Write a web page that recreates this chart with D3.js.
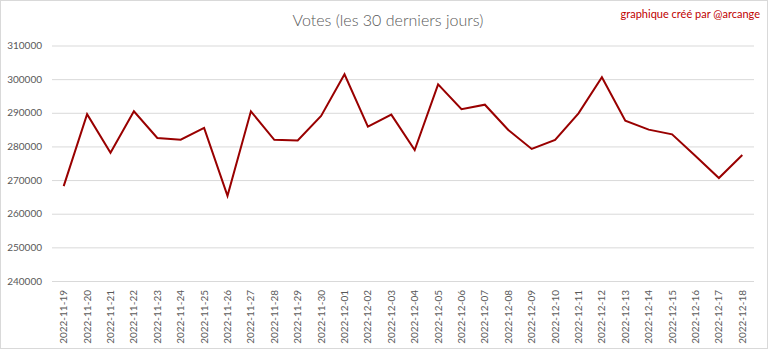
<!DOCTYPE html>
<html><head><meta charset="utf-8">
<script src="https://cdn.jsdelivr.net/npm/d3@7"></script>
<style>body{margin:0;background:#fff}svg{display:block}</style>
</head><body>
<script>
const dates = ["2022-11-19","2022-11-20","2022-11-21","2022-11-22","2022-11-23","2022-11-24","2022-11-25","2022-11-26","2022-11-27","2022-11-28","2022-11-29","2022-11-30","2022-12-01","2022-12-02","2022-12-03","2022-12-04","2022-12-05","2022-12-06","2022-12-07","2022-12-08","2022-12-09","2022-12-10","2022-12-11","2022-12-12","2022-12-13","2022-12-14","2022-12-15","2022-12-16","2022-12-17","2022-12-18"];
const votes = [268200,289600,278150,290450,282500,282000,285500,265300,290450,281950,281750,289050,301450,285850,289450,278950,298450,291050,292400,284900,279250,281950,289850,300550,287650,285000,283600,277150,270600,277450];
const yTicks = [240000,250000,260000,270000,280000,290000,300000,310000];
const title = "Votes (les 30 derniers jours)";
const credit = "graphique créé par @arcange";

const W = 768, H = 350;
const svg = d3.select("body").append("svg").attr("width", W).attr("height", H);
svg.append("rect").attr("x",0.5).attr("y",0.5).attr("width",W-1).attr("height",H-2)
  .attr("fill","#fff").attr("stroke","#d9d9d9");

const mLeft = 52, mRight = 754, mTop = 45.5, mBottom = 281;
const x = d3.scaleBand().domain(dates).range([mLeft, mRight]);
const y = d3.scaleLinear().domain([240000, 310000]).range([mBottom, mTop]);

const font = "Lato, 'Open Sans', sans-serif";
const yAxis = svg.append("g").attr("transform", `translate(${mLeft},0)`)
  .call(d3.axisLeft(y).tickValues(yTicks).tickSize(-(mRight-mLeft)).tickPadding(10).tickFormat(d3.format("d")));
yAxis.select(".domain").remove();
yAxis.selectAll(".tick line").attr("stroke","#d9d9d9").attr("stroke-width",1);
yAxis.selectAll(".tick text").attr("fill","#595959").style("font-family",font).style("font-size","10px");

const xAxis = svg.append("g").attr("transform", `translate(0,${mBottom})`)
  .call(d3.axisBottom(x).tickSize(0).tickPadding(0));
xAxis.select(".domain").remove();
xAxis.selectAll(".tick text")
  .attr("fill","#595959").style("font-family",font).style("font-size","10px")
  .attr("text-anchor","end").attr("dy",null)
  .attr("transform","translate(3.5,9) rotate(-90)");

svg.append("path").datum(votes)
  .attr("fill","none").attr("stroke","#990000").attr("stroke-width",2).attr("stroke-linejoin","miter")
  .attr("d", d3.line().x((d,i)=>x(dates[i]) + x.bandwidth()/2).y(d=>y(d)));

svg.append("text").attr("x",388).attr("y",26).attr("text-anchor","middle")
  .attr("fill","#595959").style("font-family",font).style("font-weight","300").style("font-size","16px").text(title);
svg.append("text").attr("x",760).attr("y",18).attr("text-anchor","end")
  .attr("fill","#c00000").style("font-family",font).style("font-size","11px").text(credit);
</script>
</body></html>
